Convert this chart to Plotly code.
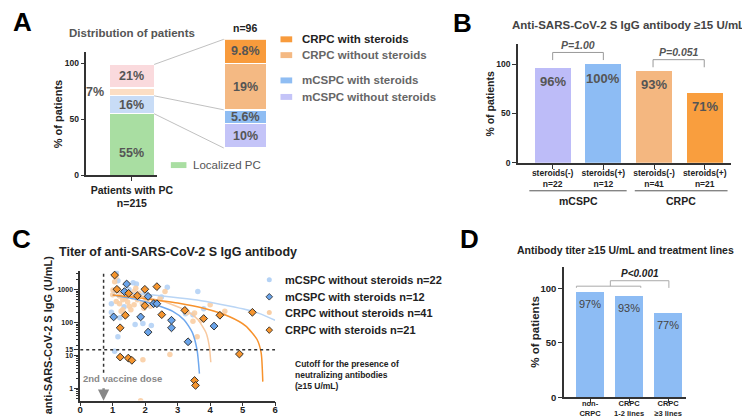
import plotly.graph_objects as go

W, H = 750, 418
FONT = "Liberation Sans, Arial, Helvetica, sans-serif"
DARK = "#222222"
GRAY = "#555555"
AXC = "#333333"

# ---------------- Panel A data ----------------
a_main_names = ["Localized PC", "mCSPC", "CRPC (a)", "CRPC (b)"]
a_main_values = [55, 16, 7, 21]
a_main_text = ["55%", "16%", "7%", "21%"]
a_break_names = ["mCSPC without steroids", "mCSPC with steroids",
                 "CRPC without steroids", "CRPC with steroids"]
a_break_values = [10, 5.6, 19, 9.8]
a_break_text = ["10%", "5.6%", "19%", "9.8%"]
a_xlabel = "Patients with PC<br>n=215"
a_break_n = "n=96"

# ---------------- Panel B data ----------------
b_ticklabels = ["steroids(-)<br>n=22", "steroids(+)<br>n=12",
                "steroids(-)<br>n=41", "steroids(+)<br>n=21"]
b_values = [96, 100, 93, 71]
b_text = ["96%", "100%", "93%", "71%"]
b_groups = ["mCSPC", "CRPC"]
b_pvalues = ["P=1.00", "P=0.051"]

# ---------------- Panel C data ----------------
c_names = ["mCSPC without steroids n=22", "mCSPC with steroids n=12",
           "CRPC without steroids n=41", "CRPC with steroids n=21"]
mcspc_wo_x = [1.11, 1.16, 1.63, 1.73, 0.96, 0.96, 1.69, 1.93, 2.19, 1.16, 1.06,
              1.22, 2.68, 3.62, 3.80, 3.24, 3.47, 1.50, 2.00, 1.45, 2.50, 1.35]
mcspc_wo_y = [3240, 1860, 1620, 1480, 372, 204, 87, 93, 81, 37, 13.5,
              140, 1170, 870, 263, 186, 173, 1000, 800, 650, 600, 300]
mcspc_w_x = [1.43, 1.36, 2.09, 2.26, 2.36, 1.03, 1.86, 2.81, 2.81, 2.09, 3.32, 4.12]
mcspc_w_y = [1480, 870, 620, 372, 372, 148, 148, 117, 69, 51, 26, 78]
crpc_wo_x = [1.06, 1.01, 1.16, 1.11, 1.21, 1.31, 1.39, 1.51, 1.56, 1.66, 1.76,
             1.91, 1.71, 1.66, 1.81, 1.31, 2.61, 2.16, 2.26, 1.41, 2.46, 1.93,
             2.76, 1.86, 4.00, 4.45, 3.52, 3.47, 3.72, 3.60, 1.10, 1.21, 1.46,
             1.96, 2.06, 2.36, 1.26, 1.00, 1.61, 2.00, 3.30]
crpc_wo_y = [1740, 980, 1020, 435, 372, 490, 550, 310, 245, 347, 490,
             390, 1100, 870, 770, 245, 870, 310, 435, 162, 550, 7.4,
             10.7, 0.42, 347, 218, 195, 110, 117, 37, 2400, 640, 420,
             270, 460, 400, 220, 700, 600, 560, 200]
crpc_w_x = [1.06, 1.13, 1.49, 1.76, 1.99, 2.36, 1.99, 1.39, 2.51, 1.23, 1.23,
            1.48, 1.59, 3.22, 3.80, 4.30, 5.30, 4.90, 3.52, 3.55]
crpc_w_y = [2760, 1020, 770, 650, 1020, 1230, 325, 166, 173, 69, 8.9,
            8.3, 7.1, 234, 132, 166, 204, 11, 1.74, 1.23]
# fitted curves
fit_mcspc_wo_x = [1.0, 2.0, 2.8, 3.6, 4.3, 5.0, 5.5, 6.0]
fit_mcspc_wo_y = [850, 720, 600, 480, 360, 260, 190, 117]
fit_mcspc_w_x = [1.0, 1.5, 2.0, 2.5, 2.85, 3.2, 3.45, 3.6, 3.67]
fit_mcspc_w_y = [690, 560, 430, 300, 218, 120, 50, 14, 2.8]
fit_crpc_wo_x = [1.0, 2.0, 2.8, 3.3, 3.62, 3.87, 3.97, 4.02]
fit_crpc_wo_y = [880, 600, 360, 220, 123, 50, 20, 6.2]
fit_crpc_w_x = [1.0, 2.0, 3.0, 3.8, 4.6, 5.1, 5.44, 5.57, 5.62]
fit_crpc_w_y = [680, 530, 390, 270, 150, 78, 31, 12, 1.6]
c_cutoff = 15
c_dose_day = 0.72
c_xticks = [0, 1, 2, 3, 4, 5, 6]
c_yticks = [1, 10, 15, 100, 1000]

# ---------------- Panel D data ----------------
d_ticklabels = ["non-<br>CRPC", "CRPC<br>1-2 lines", "CRPC<br>≥3 lines"]
d_values = [97, 93, 77]
d_text = ["97%", "93%", "77%"]
d_pvalue = "P<0.001"

# ---------------- styles ----------------
a_main_colors = ["#a9dea2", "#c8dcf6", "#fcdec4", "#fadadd"]
a_break_colors = ["#c4c4f8", "#8fbdf3", "#f4b983", "#f89b3c"]
b_colors = ["#bdbcf8", "#8dbcf4", "#f4b780", "#f99e3e"]
d_color = "#8dbcf4"
c_light_blue = "#b4d2f5"
c_blue = "#6aa4ea"
c_light_orange = "#f9cea4"
c_orange = "#f5952f"


def px(X):
    return X / W


def py(Y):
    return 1 - Y / H


def xdom(X0, X1):
    return [X0 / W, X1 / W]


def ydom(Yb, Yt):
    return [1 - Yb / H, 1 - Yt / H]


def f(size, bold=True, color=DARK, italic=False):
    d = dict(family=FONT, size=size, color=color)
    if bold:
        d["weight"] = "bold"
    if italic:
        d["style"] = "italic"
    return d


fig = go.Figure()
ann = []
shp = []

# ================= Panel A =================
AX_R = [-1.022, 0.569]
AY_R = [0, 110]
AX_D = xdom(77.3, 150)
AY_D = ydom(169.3, 44.7)
BX_R = [-0.5, 0.5]
BY_R = [0, sum(a_break_values)]
BX_D = xdom(218.3, 262)
BY_D = ydom(141.7, 31.7)

for name, v, c in zip(a_main_names, a_main_values, a_main_colors):
    fig.add_trace(go.Bar(x=[0], y=[v], width=1, name=name, marker=dict(color=c, line=dict(color="white", width=1.2)),
                         xaxis="x", yaxis="y", showlegend=False, hoverinfo="skip"))
for name, v, c in zip(a_break_names, a_break_values, a_break_colors):
    fig.add_trace(go.Bar(x=[0], y=[v], width=1, name=name, marker=dict(color=c, line=dict(color="white", width=1.5)),
                         xaxis="x2", yaxis="y2", showlegend=False, hoverinfo="skip"))

# main bar labels
cum = 0
label_y = []
for v in a_main_values:
    label_y.append(cum + v / 2)
    cum += v
label_y[0] = 20
for i, (t, yv) in enumerate(zip(a_main_text, label_y)):
    if i == 2:
        ann.append(dict(x=-0.58, y=yv, xref="x", yref="y", text=t, showarrow=False,
                        font=f(12.5, color=GRAY), xanchor="right", yanchor="middle"))
    else:
        ann.append(dict(x=0, y=yv, xref="x", yref="y", text=t, showarrow=False,
                        font=f(12.5, color=GRAY), yanchor="middle"))
cum = 0
for t, v in zip(a_break_text, a_break_values):
    ann.append(dict(x=0, y=cum + v / 2, xref="x2", yref="y2", text=t, showarrow=False,
                    font=f(12.5, color=GRAY), yanchor="middle"))
    cum += v


def a_px(xv):
    return AX_D[0] + (xv - AX_R[0]) / (AX_R[1] - AX_R[0]) * (AX_D[1] - AX_D[0])


def a_py(yv):
    return AY_D[0] + (yv - AY_R[0]) / (AY_R[1] - AY_R[0]) * (AY_D[1] - AY_D[0])


def b_py(yv):
    return BY_D[0] + (yv - BY_R[0]) / (BY_R[1] - BY_R[0]) * (BY_D[1] - BY_D[0])


main_top = sum(a_main_values)
main_mid = a_main_values[0] + a_main_values[1]
main_low = a_main_values[0]
brk_top = sum(a_break_values)
brk_mid = a_break_values[0] + a_break_values[1]
for ym, yb in [(main_top, brk_top), (main_mid, brk_mid), (main_low, 0)]:
    shp.append(dict(type="line", xref="paper", yref="paper", x0=a_px(0.5), y0=a_py(ym),
                    x1=BX_D[0], y1=b_py(yb), line=dict(color="#b0b0b0", width=0.8)))

ann.append(dict(x=px(124), y=py(25), xref="paper", yref="paper", text="Distribution of patients",
                showarrow=False, font=f(11.5, color=GRAY), yanchor="middle"))
ann.append(dict(x=px(240), y=py(20), xref="paper", yref="paper", text=a_break_n,
                showarrow=False, font=f(10.5, color=DARK), yanchor="middle"))
ann.append(dict(x=px(48.3), y=py(107.5), xref="paper", yref="paper", text="% of patients",
                showarrow=False, font=f(11), textangle=-90, yanchor="middle"))

# legend of panel A
leg_rows = [31.7, 47.7, 73.3, 90.0]
leg_order = [3, 2, 1, 0]
for Yr, idx in zip(leg_rows, leg_order):
    shp.append(dict(type="rect", xref="paper", yref="paper", x0=px(276.5), x1=px(288.5),
                    y0=py(Yr + 3), y1=py(Yr - 3), fillcolor=a_break_colors[idx], line=dict(width=0)))
    ann.append(dict(x=px(296.5), y=py(Yr), xref="paper", yref="paper", text=a_break_names[idx],
                    showarrow=False, font=f(11.5, color=DARK if idx == 3 else "#666666"),
                    xanchor="left", yanchor="middle"))
shp.append(dict(type="rect", xref="paper", yref="paper", x0=px(164), x1=px(180),
                y0=py(162), y1=py(156), fillcolor=a_main_colors[0], line=dict(width=0)))
ann.append(dict(x=px(184.5), y=py(159), xref="paper", yref="paper", text=a_main_names[0],
                showarrow=False, font=f(11.5, bold=False, color="#555555"), xanchor="left", yanchor="middle"))

# ================= Panel B =================
fig.add_trace(go.Bar(x=list(range(len(b_values))), y=b_values, width=0.71,
                     marker=dict(color=b_colors, line=dict(width=0)),
                     xaxis="x3", yaxis="y3", showlegend=False, hoverinfo="skip"))
for i, (t, v) in enumerate(zip(b_text, b_values)):
    ann.append(dict(x=i, y=v, xref="x3", yref="y3", text=t, showarrow=False, yshift=-14,
                    font=f(13, color=GRAY), yanchor="middle"))
# brackets
for (x0, x1, ytop, ydrop, txt, ytxt) in [(0, 1, 111.7, 104, b_pvalues[0], 119),
                                         (1.98, 2.99, 104.4, 96.7, b_pvalues[1], 112.4)]:
    shp.append(dict(type="path", xref="x3", yref="y3",
                    path=f"M {x0},{ydrop} L {x0},{ytop} L {x1},{ytop} L {x1},{ydrop}",
                    line=dict(color="#999999", width=1)))
    ann.append(dict(x=(x0 + x1) / 2, y=ytxt, xref="x3", yref="y3", text=txt, showarrow=False,
                    font=f(10.5, color=GRAY, italic=True), yanchor="middle"))
for (x0, x1, g) in [(-0.46, 1.46, b_groups[0]), (1.62, 3.45, b_groups[1])]:
    shp.append(dict(type="line", xref="x3", yref="paper", x0=x0, x1=x1, y0=py(185), y1=py(185),
                    line=dict(color="#555555", width=1)))
    ann.append(dict(x=(x0 + x1) / 2, y=py(195), xref="x3", yref="paper", text=g, showarrow=False,
                    font=f(10.5), yanchor="middle"))
ann.append(dict(x=px(634), y=py(17.3), xref="paper", yref="paper",
                text="Anti-SARS-CoV-2 S IgG antibody ≥15 U/mL", showarrow=False,
                font=f(11.5, color="#444444"), yanchor="middle"))
ann.append(dict(x=px(491.7), y=py(97.5), xref="paper", yref="paper", text="% of patients",
                showarrow=False, font=f(10.5), textangle=-90, yanchor="middle"))

# ================= Panel C =================
fig.add_trace(go.Scatter(x=mcspc_wo_x, y=mcspc_wo_y, mode="markers", name=c_names[0],
                         marker=dict(symbol="circle", size=5.5, color=c_light_blue, opacity=0.9),
                         xaxis="x4", yaxis="y4", showlegend=False, hoverinfo="skip"))
fig.add_trace(go.Scatter(x=crpc_wo_x, y=crpc_wo_y, mode="markers", name=c_names[2],
                         marker=dict(symbol="circle", size=5.5, color=c_light_orange, opacity=0.9),
                         xaxis="x4", yaxis="y4", showlegend=False, hoverinfo="skip"))
for fx, fy, col in [(fit_mcspc_wo_x, fit_mcspc_wo_y, "#b9d5f5"),
                    (fit_crpc_wo_x, fit_crpc_wo_y, "#f8c9a0"),
                    (fit_mcspc_w_x, fit_mcspc_w_y, "#6fa8ee"),
                    (fit_crpc_w_x, fit_crpc_w_y, "#f7922c")]:
    fig.add_trace(go.Scatter(x=fx, y=fy, mode="lines", line=dict(color=col, width=1.5, shape="spline", smoothing=0.6),
                             xaxis="x4", yaxis="y4", showlegend=False, hoverinfo="skip"))
# dotted reference lines
fig.add_trace(go.Scatter(x=[c_xticks[0], c_xticks[-1]], y=[c_cutoff, c_cutoff], mode="lines",
                         line=dict(color="#333333", width=1.5, dash="dot"),
                         xaxis="x4", yaxis="y4", showlegend=False, hoverinfo="skip"))
fig.add_trace(go.Scatter(x=[c_dose_day, c_dose_day], y=[3, 10 ** 3.57], mode="lines",
                         line=dict(color="#333333", width=1.5, dash="dot"),
                         xaxis="x4", yaxis="y4", showlegend=False, hoverinfo="skip"))
fig.add_trace(go.Scatter(x=mcspc_w_x, y=mcspc_w_y, mode="markers", name=c_names[1],
                         marker=dict(symbol="diamond", size=6, color=c_blue, line=dict(color="#222222", width=0.9)),
                         xaxis="x4", yaxis="y4", showlegend=False, hoverinfo="skip"))
fig.add_trace(go.Scatter(x=crpc_w_x, y=crpc_w_y, mode="markers", name=c_names[3],
                         marker=dict(symbol="diamond", size=6, color=c_orange, line=dict(color="#222222", width=0.9)),
                         xaxis="x4", yaxis="y4", showlegend=False, hoverinfo="skip"))

ann.append(dict(x=px(171), y=py(246.7), xref="paper", yref="paper",
                text="Titer of anti-SARS-CoV-2 S IgG antibody", showarrow=False,
                font=f(12.5), yanchor="middle"))
ann.append(dict(x=px(38.3), y=py(331), xref="paper", yref="paper", text="anti-SARS-CoV-2 S IgG (U/mL)",
                showarrow=False, font=f(11), textangle=-90, yanchor="middle"))
ann.append(dict(x=px(114.5), y=py(375.3), xref="paper", yref="paper", text="2nd vaccine dose",
                showarrow=False, font=f(9.5, color="#888888"), yanchor="middle"))
ann.append(dict(x=c_dose_day, y=py(397.5), xref="x4", yref="paper", ax=0, ay=-14, text="",
                showarrow=True, arrowhead=2, arrowsize=0.9, arrowwidth=2.5, arrowcolor="#888888"))
ann.append(dict(x=px(289.5), y=py(371.5), xref="paper", yref="paper",
                text="Cutoff for the presence of<br>neutralizing antibodies<br>(≥15 U/mL)",
                showarrow=False, font=f(8.5), xanchor="left", yanchor="middle", align="left"))
# legend of panel C
c_leg_rows = [275, 292.3, 308.3, 326]
c_leg_cols = [c_light_blue, c_blue, c_light_orange, c_orange]
c_leg_diam = [False, True, False, True]
for Yr, name, col, dia in zip(c_leg_rows, c_names, c_leg_cols, c_leg_diam):
    if dia:
        shp.append(dict(type="path", xref="paper", yref="paper", xsizemode="pixel", ysizemode="pixel",
                        xanchor=px(265), yanchor=py(Yr), path="M 0,3.3 L 3.3,0 L 0,-3.3 L -3.3,0 Z",
                        fillcolor=col, line=dict(color="#222222", width=0.8)))
    else:
        shp.append(dict(type="circle", xref="paper", yref="paper", xsizemode="pixel", ysizemode="pixel",
                        xanchor=px(265), yanchor=py(Yr), x0=-2.5, x1=2.5, y0=-2.5, y1=2.5,
                        fillcolor=col, line=dict(width=0)))
    ann.append(dict(x=px(279.5), y=py(Yr), xref="paper", yref="paper", text=name, showarrow=False,
                    font=f(11), xanchor="left", yanchor="middle"))

# ================= Panel D =================
fig.add_trace(go.Bar(x=list(range(len(d_values))), y=d_values, width=0.71,
                     marker=dict(color=d_color, line=dict(width=0)),
                     xaxis="x5", yaxis="y5", showlegend=False, hoverinfo="skip"))
for i, (t, v) in enumerate(zip(d_text, d_values)):
    ann.append(dict(x=i, y=v, xref="x5", yref="y5", text=t, showarrow=False, yshift=-12,
                    font=f(11, bold=False, color="#444444"), yanchor="middle"))
shp.append(dict(type="path", xref="x5", yref="y5",
                path="M -0.35,100.5 L -0.35,102 L 1.3,102 L 1.3,100.5", line=dict(color="#aaaaaa", width=1)))
shp.append(dict(type="path", xref="x5", yref="y5",
                path="M 0.52,102 L 0.52,107 L 2.02,107 L 2.02,100.4", line=dict(color="#aaaaaa", width=1)))
ann.append(dict(x=1.29, y=113.5, xref="x5", yref="y5", text=d_pvalue, showarrow=False,
                font=f(10, italic=True), yanchor="middle"))
ann.append(dict(x=px(630), y=py(245), xref="paper", yref="paper",
                text="Antibody titer ≥15 U/mL and treatment lines", showarrow=False,
                font=f(10.5), yanchor="middle"))
ann.append(dict(x=px(536.7), y=py(327.5), xref="paper", yref="paper", text="% of patients",
                showarrow=False, font=f(11.5), textangle=-90, yanchor="middle"))

# ================= panel letters =================
for t, X, Y in [("A", 12, 14), ("B", 463, 15), ("C", 11, 234), ("D", 470, 234)]:
    ann.append(dict(x=px(X), y=py(Y), xref="paper", yref="paper", text=t, showarrow=False,
                    font=f(26, color="#000000"), yanchor="middle"))

for a in ann:
    a.setdefault("xanchor", "center")

axis_common = dict(showline=True, linecolor=AXC, linewidth=1.5, ticks="outside", tickcolor=AXC,
                   tickwidth=1.2, ticklen=4, showgrid=False, zeroline=False, fixedrange=True)

fig.update_layout(
    width=W, height=H, margin=dict(l=0, r=0, t=0, b=0),
    paper_bgcolor="white", plot_bgcolor="white", barmode="stack", showlegend=False,
    font=dict(family=FONT, color=DARK),
    xaxis=dict(axis_common, domain=AX_D, range=AX_R, anchor="y", tickvals=[0], ticktext=[a_xlabel],
               tickfont=f(10.5)),
    yaxis=dict(axis_common, domain=AY_D, range=AY_R, anchor="x", tickvals=[0, 50, 100], tickfont=f(8.5)),
    xaxis2=dict(domain=BX_D, range=BX_R, anchor="y2", visible=False, fixedrange=True),
    yaxis2=dict(domain=BY_D, range=BY_R, anchor="x2", visible=False, fixedrange=True),
    xaxis3=dict(axis_common, domain=xdom(520, 738.3), range=[-0.687, 3.51], anchor="y3",
                tickvals=list(range(4)), ticktext=b_ticklabels, tickfont=f(8.5), ticklabelstandoff=-3),
    yaxis3=dict(axis_common, domain=ydom(156.7, 36.7), range=[0, 120], anchor="x3",
                tickvals=[0, 50, 100], tickfont=f(8.5)),
    xaxis4=dict(axis_common, domain=xdom(71, 271), range=[0, 6], anchor="y4",
                tickvals=c_xticks, tickfont=f(9.5), ticklabelstandoff=-5),
    yaxis4=dict(axis_common, domain=ydom(397.3, 266), type="log", range=[-0.37, 3.57], anchor="x4",
                tickvals=c_yticks, ticktext=[str(v) for v in c_yticks], tickfont=f(7),
                minor=dict(ticks="outside", ticklen=2, tickcolor=AXC,
                           tickvals=[m * 10 ** e for e in range(-1, 4) for m in range(2, 10)])),
    xaxis5=dict(axis_common, domain=xdom(567.3, 693), range=[-0.67, 2.47], anchor="y5",
                tickvals=list(range(3)), ticktext=d_ticklabels, tickfont=f(7.5), ticklabelstandoff=-6),
    yaxis5=dict(axis_common, domain=ydom(394, 261.7), range=[0, 120], anchor="x5",
                tickvals=[0, 50, 100], tickfont=f(9.5)),
    annotations=ann, shapes=shp,
)

fig.write_html("out.html")
